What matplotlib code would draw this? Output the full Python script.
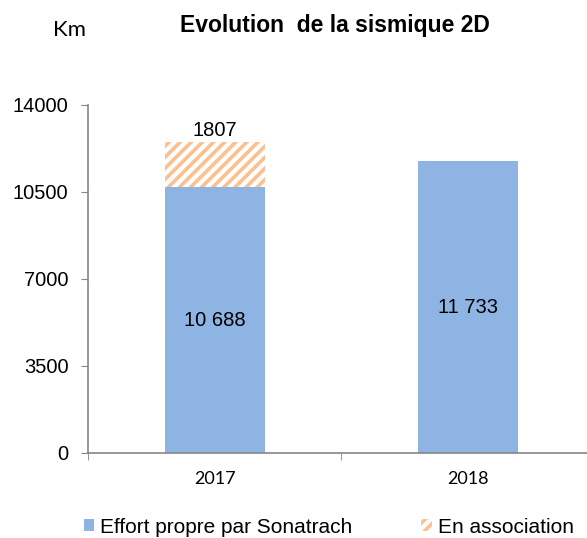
import matplotlib.pyplot as plt
import numpy as np

plt.rcParams["font.family"] = ["Liberation Sans", "DejaVu Sans"]
plt.rcParams["hatch.linewidth"] = 2.6

years = ["2017", "2018"]
propre = [10688, 11733]
association = [1807, 0]
propre_labels = ["10 688", "11 733"]
assoc_labels = ["1807", ""]
yticks = [0, 3500, 7000, 10500, 14000]

blue = "#8EB4E3"
orange = "#FAC090"
grey = "#868686"

fig = plt.figure(figsize=(5.87, 5.38), dpi=100)
ax = fig.add_axes([0.15, 0.158, 0.862, 0.647])

x = np.arange(len(years))
b1 = ax.bar(x, propre, width=0.395, color=blue, label="Effort propre par Sonatrach")
b2 = ax.bar(x, association, width=0.395, bottom=propre, color="white",
            edgecolor=orange, hatch="///", linewidth=0, label="En association")

for i in range(len(years)):
    ax.text(x[i], propre[i] / 2, propre_labels[i], ha="center", va="center", fontsize=14.5)
    if association[i]:
        ax.text(x[i], propre[i] + association[i] + 100, assoc_labels[i],
                ha="center", va="bottom", fontsize=14.5)

ax.set_xlim(-0.5, 1.5)
ax.set_ylim(0, 14000)
ax.set_yticks(yticks)
ax.set_yticklabels([str(v) for v in yticks], fontsize=14.5)
ax.set_xticks(x)
ax.set_xticklabels(years, fontsize=13, family=["Lato", "DejaVu Sans"])
ax.set_xticks([-0.5, 0.5, 1.5], minor=True)
ax.tick_params(axis="x", which="major", length=0, pad=13)
ax.tick_params(axis="x", which="minor", length=5, color=grey, direction="out")
ax.tick_params(axis="y", length=5, color=grey, direction="out", pad=9)

for s in ["top", "right"]:
    ax.spines[s].set_visible(False)
for s in ["left", "bottom"]:
    ax.spines[s].set_color(grey)
    ax.spines[s].set_linewidth(1.2)

fig.text(0.571, 0.953, "Evolution  de la sismique 2D", ha="center", va="center",
         fontsize=16.5, fontweight="bold")
fig.text(0.118, 0.944, "Km", ha="center", va="center", fontsize=16,
         family=["Lato", "DejaVu Sans"])

fig.legend(handles=[b1, b2], loc="center", bbox_to_anchor=(0.56, 0.02), ncol=2,
           frameon=False, fontsize=15, handlelength=0.5, handleheight=0.5,
           handletextpad=0.3, columnspacing=3.3, borderpad=0)

fig.savefig("out.png", dpi=100)
